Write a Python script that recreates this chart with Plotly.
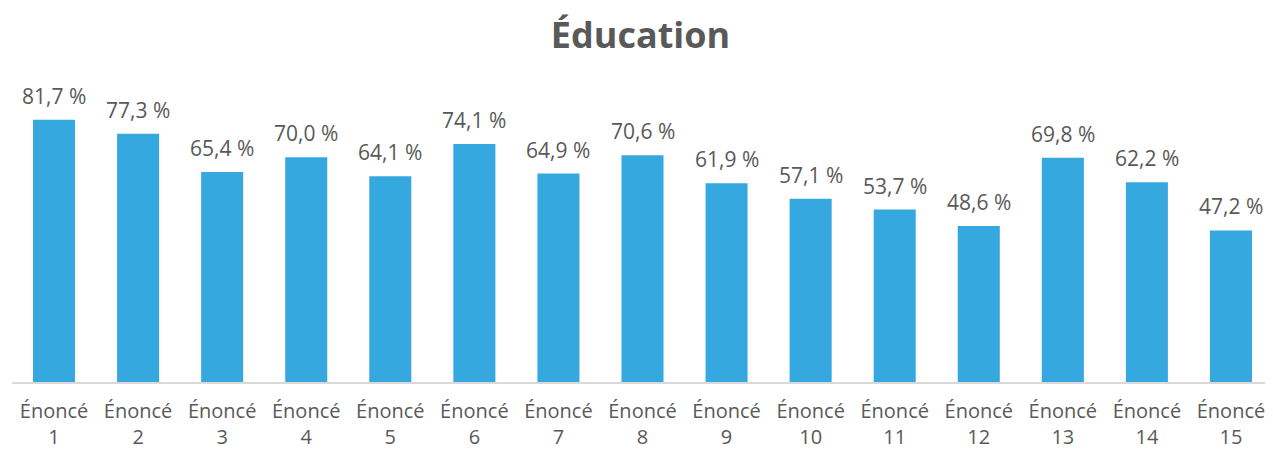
import plotly.graph_objects as go

categories = [f"Énoncé<br>{i}" for i in range(1, 16)]
values = [81.7, 77.3, 65.4, 70.0, 64.1, 74.1, 64.9, 70.6, 61.9, 57.1, 53.7, 48.6, 69.8, 62.2, 47.2]
labels = [f"{v:.1f}".replace(".", ",") + " %" for v in values]

fig = go.Figure()
fig.add_trace(go.Bar(x=categories, y=values, marker=dict(color="#36A8E0", line=dict(width=0)),
                     hoverinfo="skip"))

for c, v, t in zip(categories, values, labels):
    fig.add_annotation(x=c, y=v, text=t, showarrow=False, yanchor="bottom", yshift=8,
                       font=dict(family="Open Sans", size=21, color="#595959"))

fig.update_layout(
    width=1265, height=445,
    margin=dict(l=4, r=0, t=85, b=71),
    paper_bgcolor="white", plot_bgcolor="white",
    bargap=0.5,
    showlegend=False,
    title=dict(text="<b>Éducation</b>", x=0.5, xanchor="center", y=0.939, yanchor="middle",
               font=dict(family="Open Sans", size=36, color="#595959")),
    xaxis=dict(showline=True, linecolor="#D9D9D9", linewidth=2, ticks="", showgrid=False,
               ticklabelstandoff=10, automargin=False,
               tickfont=dict(family="Open Sans", size=20, color="#595959")),
    yaxis=dict(range=[0, 90], visible=False, showgrid=False, zeroline=False),
)

fig.write_html("out.html")
